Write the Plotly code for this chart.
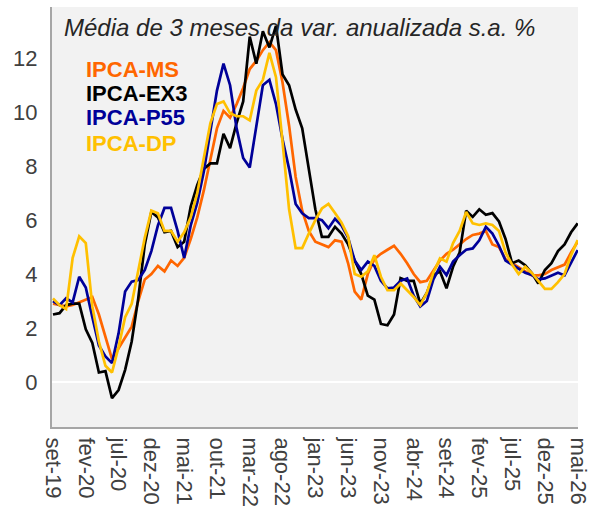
import plotly.graph_objects as go

# meses de set-19 a mai-26 (81 pontos mensais)
meses_pt = ['jan', 'fev', 'mar', 'abr', 'mai', 'jun',
            'jul', 'ago', 'set', 'out', 'nov', 'dez']
periodos = []
ano, mes = 2019, 8
while (ano, mes) <= (2026, 4):
    periodos.append(f"{meses_pt[mes]}-{str(ano)[2:]}")
    mes += 1
    if mes == 12:
        mes, ano = 0, ano + 1

ticks_x = ['set-19', 'fev-20', 'jul-20', 'dez-20', 'mai-21', 'out-21',
           'mar-22', 'ago-22', 'jan-23', 'jun-23', 'nov-23', 'abr-24',
           'set-24', 'fev-25', 'jul-25', 'dez-25', 'mai-26']

ipca_ms = [2.9, 2.85, 2.8, 2.85, 2.95, 3.05, 3.15, 2.5, 1.7, 0.85,
           1.25, 1.65, 2.05, 3.0, 3.8, 4.0, 4.3, 4.1, 4.5, 4.3,
           4.6, 5.3, 6.1, 7.1, 8.2, 9.4, 10.05, 9.8, 10.3, 10.9,
           11.6, 11.9, 12.3, 12.6, 12.3, 11.1, 9.5, 7.6, 6.35, 5.6,
           5.2, 5.1, 5.0, 5.25, 5.2, 4.4, 3.35, 3.05, 4.0, 4.55,
           4.75, 4.9, 5.05, 4.75, 4.4, 4.0, 3.7, 3.75, 4.15, 4.5,
           4.75, 4.9, 5.1, 5.3, 5.45, 5.5, 5.6, 5.1, 5.0, 4.55,
           4.4, 4.25, 4.1, 3.95, 3.95, 4.0, 4.15, 4.25, 4.35, 4.8,
           5.2]

ipca_ex3 = [2.5, 2.55, 2.85, 2.9, 2.9, 1.95, 1.45, 0.35, 0.4, -0.6,
            -0.3, 0.45, 1.5, 3.1, 5.1, 6.3, 6.1, 5.55, 5.6, 5.0,
            5.2, 6.5, 7.3, 7.9, 8.1, 8.1, 9.2, 8.67, 9.6, 10.4,
            12.8, 11.8, 13.0, 12.4, 13.2, 11.4, 11.0, 10.1, 9.4, 7.9,
            6.4, 5.38, 5.38, 5.75, 5.5, 5.1, 4.5, 4.0, 3.2, 3.05,
            2.15, 2.1, 2.5, 3.85, 3.75, 3.75, 2.9, 3.3, 3.95, 4.1,
            3.47, 4.27, 4.8, 6.35, 6.12, 6.4, 6.2, 6.26, 5.95, 5.3,
            4.4, 4.5, 4.33, 4.04, 3.65, 4.15, 4.4, 4.85, 5.1, 5.55,
            5.88]

ipca_p55 = [3.0, 2.85, 3.1, 2.95, 3.9, 3.5, 2.4, 1.35, 0.95, 0.7,
            1.8, 3.35, 3.72, 3.78, 4.15, 4.85, 5.8, 6.45, 6.45, 5.6,
            4.6, 5.8, 6.65, 7.8, 9.3, 10.8, 11.8, 11.0, 9.4, 8.3,
            7.95, 9.4, 11.0, 11.2, 10.3, 9.0, 7.9, 6.6, 6.25, 6.07,
            6.07, 6.0, 5.7, 6.05, 5.8, 5.35, 4.5, 4.15, 4.46, 4.3,
            3.75, 3.47, 3.5, 3.75, 3.84, 3.2, 2.8, 3.0, 3.8, 4.27,
            3.96, 4.46, 4.7, 4.9, 4.95, 5.25, 5.75, 5.5, 5.05, 4.5,
            4.35, 4.22, 4.05, 3.97, 3.8, 3.84, 3.95, 4.05, 3.95, 4.4,
            4.89]

ipca_dp = [3.1, 2.85, 2.7, 4.6, 5.4, 5.15, 2.8, 1.5, 0.6, 0.35,
           1.3, 2.4, 2.9, 4.1, 5.35, 6.35, 6.25, 5.6, 5.6, 5.2,
           5.55, 6.1, 7.0, 8.3, 9.6, 10.3, 10.4, 9.96, 9.85, 9.85,
           9.7, 10.8, 11.2, 12.2, 11.3, 8.9, 6.4, 4.96, 4.96, 5.5,
           6.0, 6.43, 6.6, 6.26, 5.9, 5.4, 4.0, 3.9, 4.1, 4.7,
           3.9, 3.4, 3.4, 3.65, 3.4, 3.15, 2.85, 3.3, 4.05, 4.58,
           4.46, 5.15, 5.6, 6.3, 5.88, 5.82, 5.88, 5.82, 5.6, 4.8,
           4.35, 4.0, 4.27, 4.04, 3.75, 3.45, 3.45, 3.7, 4.0, 4.7,
           5.26]

nomes = ['IPCA-MS', 'IPCA-EX3', 'IPCA-P55', 'IPCA-DP']
series = [ipca_ms, ipca_ex3, ipca_p55, ipca_dp]
cores = ['#FF6600', '#000000', '#000099', '#FFC000']

fonte = 'Liberation Sans, Arial, sans-serif'

fig = go.Figure()
for nome, valores, cor in zip(nomes, series, cores):
    fig.add_trace(go.Scatter(
        x=periodos,
        y=valores,
        mode='lines',
        name=nome,
        line=dict(color=cor, width=2.7),
    ))

fig.update_layout(
    width=593,
    height=509,
    showlegend=False,
    plot_bgcolor='#f2f2f2',
    paper_bgcolor='white',
    font=dict(family=fonte, size=22, color='#404040'),
    margin=dict(l=52, r=15, t=7, b=82),
)

# titulo dentro da area do grafico
fig.add_annotation(
    text='Média de 3 meses da var. anualizada s.a. %',
    xref='paper', yref='paper', x=0.019, y=0.952,
    xanchor='left', yanchor='middle', showarrow=False,
    font=dict(family=fonte, size=24, color='#262626', style='italic'),
)

# legenda como texto colorido
legenda_y = [0.852, 0.795, 0.736, 0.674]
for nome, cor, yy in zip(nomes, cores, legenda_y):
    fig.add_annotation(
        text=f'<b>{nome}</b>',
        xref='paper', yref='paper', x=0.061, y=yy,
        xanchor='left', yanchor='middle', showarrow=False,
        font=dict(family=fonte, size=22, color=cor),
    )

fig.update_xaxes(
    type='category',
    range=[-0.15, 80.05],
    tickmode='array',
    tickvals=ticks_x,
    ticktext=ticks_x,
    tickangle=90,
    showgrid=False,
    zeroline=False,
    showline=True,
    linecolor='#a6a6a6',
    linewidth=2,
    ticks='',
    ticklabelstandoff=4,
    automargin=False,
)

fig.update_yaxes(
    range=[-1.67, 13.9],
    tickvals=[0, 2, 4, 6, 8, 10, 12],
    showgrid=False,
    zeroline=True,
    zerolinecolor='white',
    zerolinewidth=2,
    showline=True,
    linecolor='#a6a6a6',
    linewidth=2,
    ticks='',
    ticklabelstandoff=8,
    automargin=False,
)

# sem margem do body para o grafico ocupar a janela inteira
fig.write_html('out.html',
               config={'displayModeBar': False},
               post_script="document.body.style.margin='0px';")
